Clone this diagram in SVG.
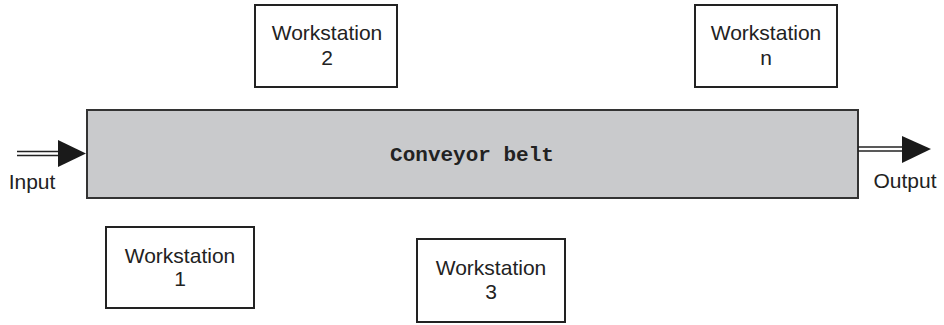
<svg xmlns="http://www.w3.org/2000/svg" width="944" height="325" viewBox="0 0 944 325">
  <style>
    .box { fill: #ffffff; stroke: #222222; stroke-width: 2; }
    .belt { fill: #c9cacc; stroke: #333333; stroke-width: 2; }
    .label { font-family: "Liberation Sans", Arial, sans-serif; font-size: 21px; fill: #222222; text-anchor: middle; }
    .mono { font-family: "Liberation Mono", "Courier New", monospace; font-size: 21px; font-weight: bold; fill: #222222; text-anchor: middle; }
    .rail { stroke: #222222; stroke-width: 1.6; fill: none; }
    .head { fill: #1a1a1a; }
  </style>

  <!-- conveyor belt -->
  <g id="belt">
    <rect class="belt" x="87" y="110" width="771" height="88"/>
    <text class="mono" x="472" y="161">Conveyor belt</text>
  </g>

  <!-- workstations -->
  <g id="ws2">
    <rect class="box" x="255" y="5" width="142" height="82"/>
    <text class="label" x="327" y="40">Workstation</text>
    <text class="label" x="327" y="65">2</text>
  </g>
  <g id="wsn">
    <rect class="box" x="695" y="5" width="142" height="82"/>
    <text class="label" x="766" y="40">Workstation</text>
    <text class="label" x="766" y="65">n</text>
  </g>
  <g id="ws1">
    <rect class="box" x="106" y="227" width="148" height="81"/>
    <text class="label" x="180" y="263">Workstation</text>
    <text class="label" x="180" y="286">1</text>
  </g>
  <g id="ws3">
    <rect class="box" x="417" y="239" width="148" height="83"/>
    <text class="label" x="491" y="275">Workstation</text>
    <text class="label" x="491" y="299">3</text>
  </g>

  <!-- input / output flows -->
  <g id="connectors">
    <line class="rail" x1="17" y1="151.5" x2="60" y2="151.5"/>
    <line class="rail" x1="17" y1="155.5" x2="60" y2="155.5"/>
    <polygon class="head" points="58,140 86,153.5 58,167"/>
    <line class="rail" x1="858" y1="147" x2="904" y2="147"/>
    <line class="rail" x1="858" y1="151" x2="904" y2="151"/>
    <polygon class="head" points="902,136 931,149 902,163"/>
  </g>

  <g id="input-label">
    <text class="label" x="32" y="189">Input</text>
  </g>
  <g id="output-label">
    <text class="label" x="905" y="188">Output</text>
  </g>
</svg>
